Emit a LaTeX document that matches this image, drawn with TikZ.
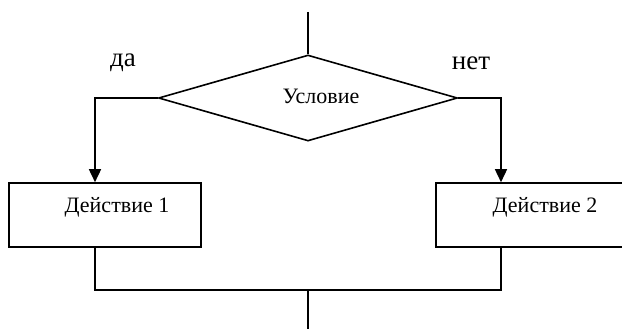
\documentclass[tikz,border=0pt]{standalone}
\usepackage{fontspec}
\setmainfont{Liberation Serif}
\usetikzlibrary{shapes.geometric,arrows.meta}
\tikzset{
  flow/.style={line width=1.6pt, draw=black},
  arrowline/.style={flow, -{Triangle[length=13pt,width=12pt]}},
  condbox/.style={flow, diamond, minimum width=299pt, minimum height=86pt, inner sep=0pt},
  actbox/.style={flow, rectangle, minimum width=192pt, minimum height=64pt, inner sep=0pt},
  boxtext/.style={font=\fontsize{22}{26}\selectfont, inner sep=0pt},
  branchtext/.style={font=\fontsize{27}{32}\selectfont, inner sep=0pt}
}
\begin{document}
\begin{tikzpicture}[x=1pt,y=-1pt]
  \clip (0,0) rectangle (622,329);
  \fill[white] (0,0) rectangle (622,329);

  % decision
  \node[condbox] (cond) at (308,98) {};
  \node[boxtext] (condtext) at (321,96) {Условие};
  \node[branchtext] (yes) at (123,63) {да};
  \node[branchtext] (no) at (471,63) {нет};

  % actions
  \node[actbox] (act1) at (105,215) {};
  \node[boxtext] (act1text) at (117,207) {Действие 1};
  \node[actbox] (act2) at (532,215) {};
  \node[boxtext] (act2text) at (545,207) {Действие 2};

  % connection points
  \coordinate (entry) at (308,12);
  \coordinate (merge) at (308,290);
  \coordinate (exit) at (308,330);

  % connectors
  \draw[flow] (entry) -- (cond.north);
  \draw[arrowline] (cond.west) -| ([xshift=-10pt]act1.north);
  \draw[arrowline] (cond.east) -| ([xshift=-31pt]act2.north);
  \draw[flow] ([xshift=-10pt]act1.south) |- (merge) -| ([xshift=-31pt]act2.south);
  \draw[flow] (merge) -- (exit);
\end{tikzpicture}
\end{document}
